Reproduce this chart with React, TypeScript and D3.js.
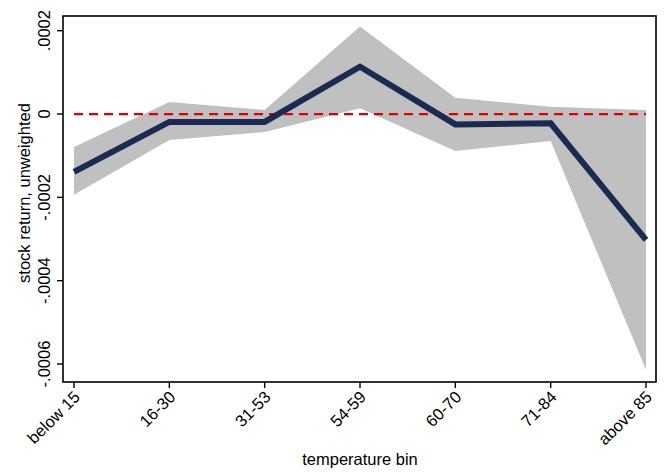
import * as d3 from 'd3';

const bins = ['below 15', '16-30', '31-53', '54-59', '60-70', '71-84', 'above 85'];
const estimate = [-0.000139, -0.000019, -0.000019, 0.0001135, -0.000025, -0.0000224, -0.000302];
const upper = [-0.000079, 0.000029, 0.0000096, 0.00021, 0.000039, 0.0000175, 0.0000096];
const lower = [-0.000194, -0.0000624, -0.0000432, 0.0000137, -0.0000888, -0.0000648, -0.000614];
const yTicks = [0.0002, 0, -0.0002, -0.0004, -0.0006];
const yTickLabels = ['.0002', '0', '-.0002', '-.0004', '-.0006'];

const W = 666;
const H = 472;
const frame = { left: 63, right: 656, top: 16, bottom: 382 };
const font = '"Liberation Sans", Arial, sans-serif';
const fs = 16.5;

export default function App() {
  const x = d3.scalePoint<string>().domain(bins).range([74, 646]);
  const y = d3
    .scaleLinear()
    .domain([-0.0006, 0.0002])
    .range([364, 30.7]);

  const band = d3
    .area<number>()
    .x((_, i) => x(bins[i]) as number)
    .y0((_, i) => y(lower[i]))
    .y1((_, i) => y(upper[i]));

  const line = d3
    .line<number>()
    .x((_, i) => x(bins[i]) as number)
    .y((v) => y(v));

  return (
    <svg
      width={W}
      height={H}
      style={{ position: 'absolute', left: 0, top: 0, background: '#fff' }}
      fontFamily={font}
    >
      <path d={band(upper) || ''} fill="#c0c0c0" />
      <line
        x1={x(bins[0])}
        x2={x(bins[bins.length - 1])}
        y1={y(0)}
        y2={y(0)}
        stroke="#e00000"
        strokeWidth={2.2}
        strokeDasharray="9 6"
      />
      <path d={line(estimate) || ''} fill="none" stroke="#1b2a50" strokeWidth={6} strokeLinejoin="miter" />

      <rect
        x={frame.left}
        y={frame.top}
        width={frame.right - frame.left}
        height={frame.bottom - frame.top}
        fill="none"
        stroke="#000"
        strokeWidth={1.6}
      />

      {yTicks.map((t, i) => (
        <g key={t}>
          <line x1={frame.left - 6} x2={frame.left} y1={y(t)} y2={y(t)} stroke="#000" strokeWidth={1.4} />
          <text
            transform={`translate(${frame.left - 13},${y(t)}) rotate(-90)`}
            textAnchor="middle"
            fontSize={fs}
            fill="#000"
          >
            {yTickLabels[i]}
          </text>
        </g>
      ))}

      {bins.map((b) => (
        <g key={b}>
          <line
            x1={x(b)}
            x2={x(b)}
            y1={frame.bottom}
            y2={frame.bottom + 6}
            stroke="#000"
            strokeWidth={1.4}
          />
          <text
            transform={`translate(${(x(b) as number) + 3},${frame.bottom + 12}) rotate(-45)`}
            textAnchor="end"
            fontSize={fs}
            fill="#000"
            dy="0.35em"
          >
            {b}
          </text>
        </g>
      ))}

      <text
        transform={`translate(30,193) rotate(-90)`}
        textAnchor="middle"
        fontSize={fs}
        fill="#000"
      >
        stock return, unweighted
      </text>
      <text x={360} y={465} textAnchor="middle" fontSize={fs} fill="#000">
        temperature bin
      </text>
    </svg>
  );
}
